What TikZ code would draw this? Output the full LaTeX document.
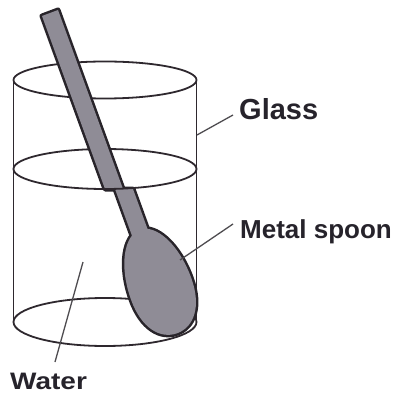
\documentclass[tikz,border=0pt]{standalone}
\usepackage{fontspec}
\setmainfont{Liberation Sans}
\definecolor{rimdark}{RGB}{46,40,46}
\definecolor{spoonfill}{RGB}{143,140,150}
\definecolor{spoonedge}{RGB}{40,36,42}
\definecolor{leadergray}{RGB}{78,76,80}
\definecolor{labelink}{RGB}{38,35,43}
\begin{document}
\begin{tikzpicture}[x=1pt,y=-1pt,
  rimline/.style={draw=rimdark,line width=1.8pt},
  spoonoutline/.style={draw=spoonedge,line width=5pt,line join=round},
  spoonbody/.style={fill=spoonfill},
  leader/.style={draw=leadergray,line width=1.3pt},
  label/.style={inner sep=0pt,anchor=base west,text=labelink,font=\bfseries}]
\useasboundingbox (0,0) rectangle (394,395);

% glass: back rims and sides
\draw[rimline] (105,80) ellipse [x radius=91.5, y radius=18.5];
\draw[rimline] (105,322) ellipse [x radius=91.5, y radius=24];
\draw[rimline] (13.5,80) -- (13.5,322);
\draw[rimline] (196.5,80) -- (196.5,322);
% water surface, back half
\draw[rimline] (196.5,169) arc[start angle=0, end angle=180, x radius=91.5, y radius=-20];

% spoon shapes (handle above water, refracted handle below, bowl)
\def\upperhandle{(105,189) -- (42,16) [rounded corners=2.5pt] -- (42,16) -- (58,10) [sharp corners] -- (123,189) -- cycle}
\def\lowerhandle{(115,189) -- (135.5,245.4) -- (153.5,245.4) -- (133,189) -- cycle}
\def\bowl{(-55,0) .. controls (-55,-17) and (-28,-32) .. (8,-32) .. controls (38,-32) and (55,-18) .. (55,0) .. controls (55,18) and (38,32) .. (8,32) .. controls (-28,32) and (-55,17) .. (-55,0) -- cycle}

% outline pass
\path[spoonoutline] (105,189) -- (42,16) -- (58,10) -- (123,189) -- cycle;
\path[spoonoutline] \lowerhandle;
\begin{scope}[shift={(158.5,281.5)},rotate=-70.2]
  \path[spoonoutline] \bowl;
\end{scope}
% fill pass
\path[spoonbody] (105,189) -- (42,16) -- (58,10) -- (123,189) -- cycle;
\path[spoonbody] \lowerhandle;
\begin{scope}[shift={(158.5,281.5)},rotate=-70.2]
  \path[spoonbody] \bowl;
\end{scope}

% water surface, front half
\draw[rimline] (196.5,169) arc[start angle=0, end angle=-180, x radius=91.5, y radius=-20];

% labels
\node[label,font=\bfseries\fontsize{29}{29}\selectfont] (glass) at (239,120) {Glass};
\node[label,font=\bfseries\fontsize{26}{26}\selectfont] (spoon) at (240,238) {Metal spoon};
\node[label,font=\bfseries\fontsize{28}{28}\selectfont,yscale=0.85] (water) at (10,389) {Water};

% leader lines
\coordinate (glasspt) at (197,135);
\coordinate (spoonpt) at (180,260);
\coordinate (waterpt) at (83,262);
\draw[leader] (glasspt) -- ([shift={(-6,-5)}]glass.base west);
\draw[leader] (spoonpt) -- ([shift={(-7,-14)}]spoon.base west);
\draw[leader] (waterpt) -- ([shift={(45,-27)}]water.base west);
\end{tikzpicture}
\end{document}
